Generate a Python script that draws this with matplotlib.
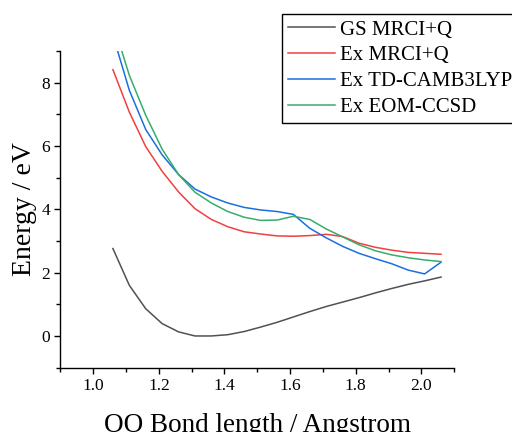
import matplotlib
matplotlib.use("Agg")
import matplotlib.pyplot as plt
from matplotlib.ticker import MultipleLocator

plt.rcParams["font.family"] = ["Liberation Serif", "DejaVu Serif"]

# OO bond length (Angstrom)
bond = [1.06, 1.11, 1.16, 1.21, 1.26, 1.31, 1.36, 1.41, 1.46, 1.51, 1.56,
        1.61, 1.66, 1.71, 1.76, 1.81, 1.86, 1.91, 1.96, 2.01, 2.06]

# energies (eV)
gs_mrci = [2.76, 1.60, 0.86, 0.39, 0.13, 0.00, 0.00, 0.04, 0.14, 0.28, 0.43,
           0.60, 0.77, 0.93, 1.07, 1.21, 1.36, 1.50, 1.63, 1.74, 1.86]
ex_mrci = [8.41, 7.07, 5.98, 5.20, 4.55, 4.02, 3.68, 3.45, 3.29, 3.22, 3.16,
           3.15, 3.17, 3.21, 3.14, 2.93, 2.80, 2.71, 2.64, 2.61, 2.58]
ex_tdcam = [9.50, 7.76, 6.52, 5.72, 5.10, 4.64, 4.39, 4.20, 4.06, 3.98, 3.93,
            3.84, 3.40, 3.10, 2.83, 2.61, 2.44, 2.28, 2.08, 1.96, 2.33]
ex_eom = [9.90, 8.23, 6.97, 5.90, 5.10, 4.54, 4.20, 3.93, 3.75, 3.65, 3.66,
          3.78, 3.68, 3.38, 3.13, 2.88, 2.69, 2.56, 2.47, 2.40, 2.35]

series = [
    ("GS MRCI+Q", gs_mrci, "#515151"),
    ("Ex MRCI+Q", ex_mrci, "#F14040"),
    ("Ex TD-CAMB3LYP", ex_tdcam, "#1A6FDF"),
    ("Ex EOM-CCSD", ex_eom, "#37AD6B"),
]

fig = plt.figure(figsize=(5.12, 4.32), dpi=100)
ax = fig.add_axes([0.118, 0.149, 0.769, 0.733])

for name, vals, col in series:
    ax.plot(bond, vals, color=col, lw=1.1, label=name)

ax.set_xlim(0.9, 2.1)
ax.set_ylim(-1, 9)
ax.xaxis.set_major_locator(MultipleLocator(0.2))
ax.xaxis.set_minor_locator(MultipleLocator(0.1))
ax.yaxis.set_major_locator(MultipleLocator(2))
ax.yaxis.set_minor_locator(MultipleLocator(1))

for side in ["top", "right"]:
    ax.spines[side].set_visible(False)
for side in ["left", "bottom"]:
    ax.spines[side].set_linewidth(1.0)

ax.tick_params(which="major", direction="out", length=4, width=1, labelsize=12.5, colors="black")
ax.tick_params(which="minor", direction="out", length=3, width=1)

ax.set_xlabel("OO Bond length / Angstrom", fontsize=19.5, labelpad=14)
ax.set_ylabel("Energy / eV", fontsize=20, labelpad=3)

leg = fig.legend(loc="upper left", bbox_to_anchor=(0.551, 0.968), fontsize=15,
                 frameon=True, fancybox=False, framealpha=1, edgecolor="black",
                 handlelength=2.25, handletextpad=0.25, labelspacing=0.3,
                 borderpad=0.3, borderaxespad=0)
leg.get_frame().set_linewidth(1.0)

fig.savefig("out.png", dpi=100)
